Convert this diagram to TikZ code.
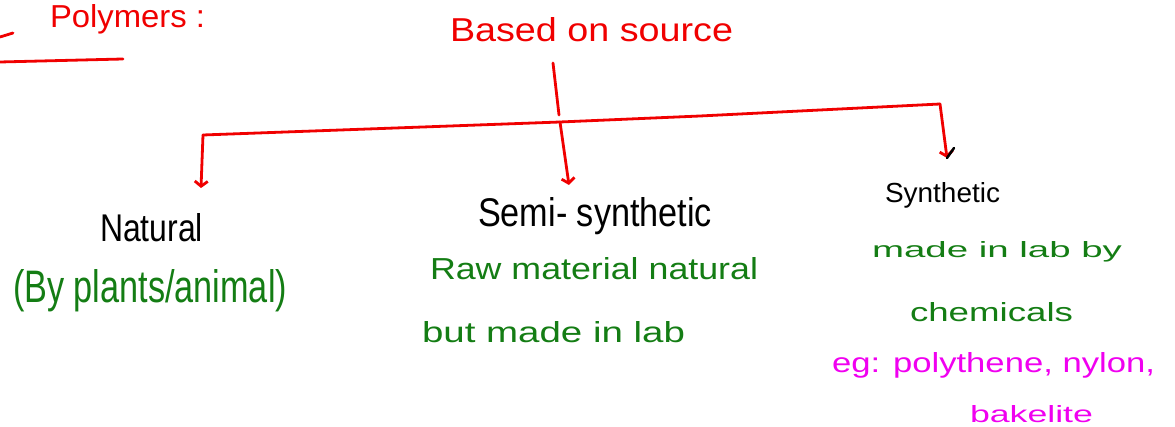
\documentclass[tikz,border=0pt]{standalone}
\usepackage{fontspec}
\setmainfont{Liberation Sans}
\usetikzlibrary{arrows.meta}
\definecolor{inkred}{RGB}{240,0,0}
\definecolor{inkgreen}{RGB}{20,125,20}
\definecolor{inkmag}{RGB}{240,0,240}
\newcommand{\fitbox}[3]{\resizebox{#1pt}{#2pt}{#3}}
\tikzset{
  lbl/.style={anchor=base west, inner sep=0pt, outer sep=0pt},
  redtxt/.style={lbl, text=inkred},
  blacktxt/.style={lbl, text=black},
  greentxt/.style={lbl, text=inkgreen},
  magtxt/.style={lbl, text=inkmag},
  redline/.style={draw=inkred, line width=2.8pt, line cap=round, line join=round},
  branch/.style={redline, -{Straight Barb[length=5pt,width=13pt,line width=2.8pt]}},
}
\begin{document}
\begin{tikzpicture}[x=1pt,y=-1pt]
\useasboundingbox (0,0) rectangle (1175,427);
% title
\node[redtxt] (poly) at (50,28) {\fitbox{155}{23}{Polymers :}};
\draw[redline] (0,62) -- (123,59);
\draw[redline] (0,37) -- (13,33);
% root
\node[redtxt] (root) at (450,42) {\fitbox{283}{24}{Based on source}};
% connector coordinates
\coordinate (stem) at (553,63);
\coordinate (junc) at (560,122);
\coordinate (lcorner) at (203,135);
\coordinate (rcorner) at (940,104);
\coordinate (ltip) at (201,188);
\coordinate (mtip) at (569,185);
\coordinate (rtip) at (947,158);
\draw[redline] (stem) -- (559,115);
\draw[redline] (lcorner) -- (junc) -- (700,116) -- (rcorner);
\draw[branch] (lcorner) -- (ltip);
\draw[branch] (junc) -- (mtip);
\draw[branch] (rcorner) -- (rtip);
\draw[black, line width=2.5pt, line cap=round] (rtip) -- (954,148);
% categories
\node[blacktxt] (natural) at (100,242) {\fitbox{103}{28}{Natural}};
\node[greentxt] (natdesc) at (13,303) {\fitbox{274}{33}{(By plants/animal)}};
\node[blacktxt] (semi) at (478,227) {\fitbox{234}{29}{Semi- synthetic}};
\node[greentxt] (semid1) at (430,280) {\fitbox{328}{22}{Raw material natural}};
\node[greentxt] (semid2) at (422,343) {\fitbox{263}{21}{but made in lab}};
\node[blacktxt] (synth) at (885,203) {\fitbox{115}{20}{Synthetic}};
\node[greentxt] (synd1) at (872,258) {\fitbox{250}{16}{made in lab by}};
\node[greentxt] (synd2) at (910,322) {\fitbox{163}{19}{chemicals}};
\node[magtxt] (eg1) at (832,373) {\fitbox{323}{20}{eg: polythene, nylon,}};
\node[magtxt] (eg2) at (970,422) {\fitbox{123}{17}{bakelite}};
\end{tikzpicture}
\end{document}
